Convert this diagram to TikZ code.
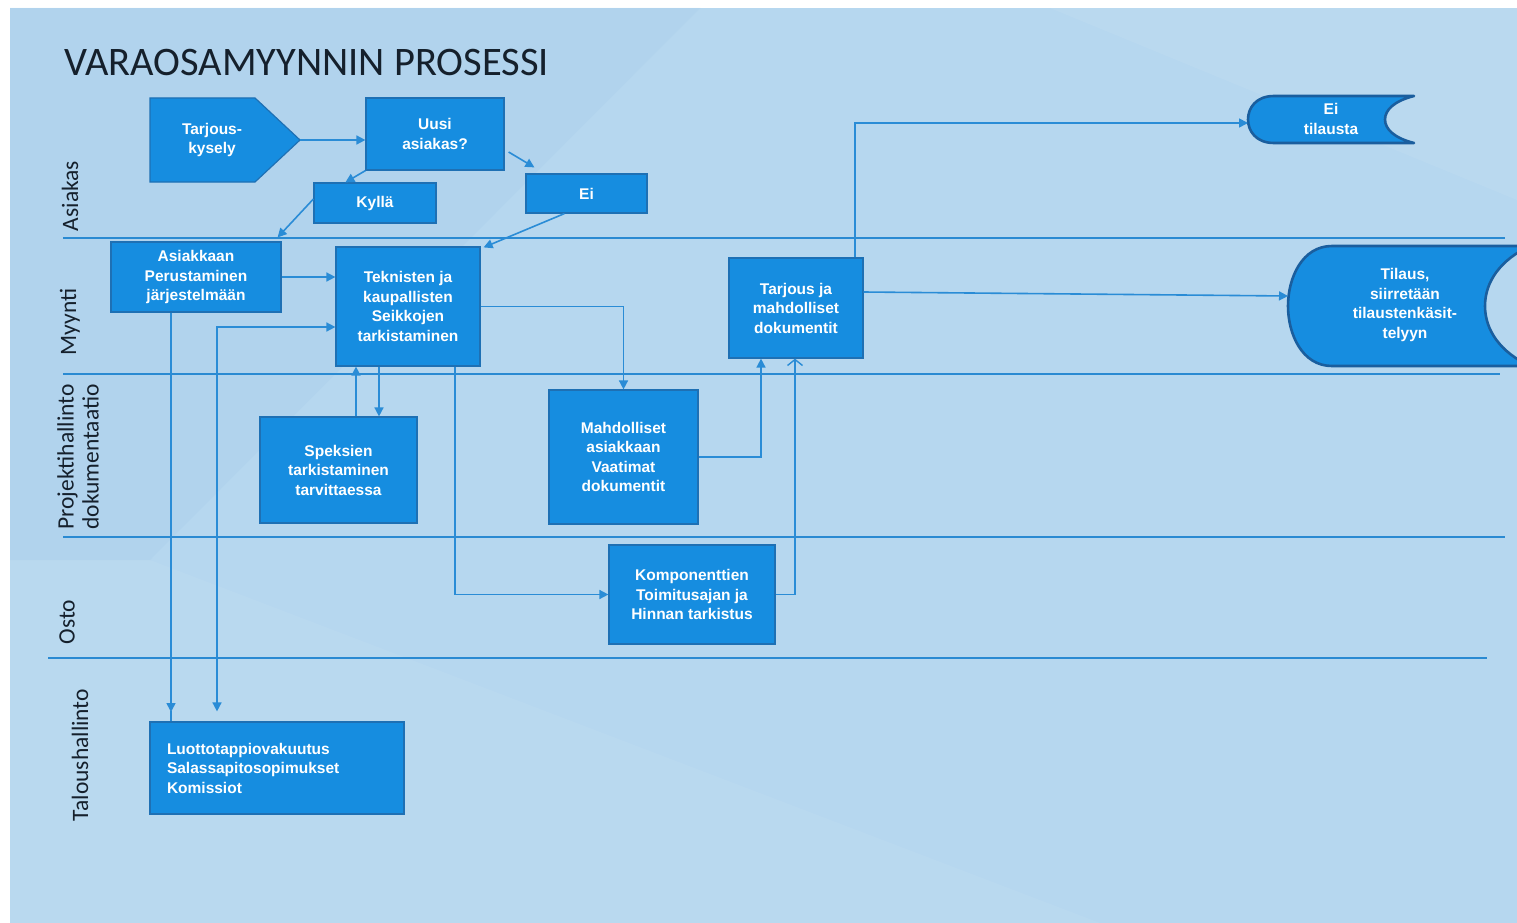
\documentclass[tikz,border=0pt]{standalone}
\usepackage{fontspec}
\setmainfont{Liberation Sans}
\newfontfamily\lanefont{Carlito}
\usetikzlibrary{arrows.meta,calc}

\definecolor{bgblue}{HTML}{B6D7EF}
\definecolor{bgdark}{HTML}{A6CCEA}
\definecolor{boxblue}{HTML}{168DE0}
\definecolor{boxedge}{HTML}{1E70B4}
\definecolor{endedge}{HTML}{1A5E9E}
\definecolor{flow}{HTML}{2A8CD6}
\definecolor{lane}{HTML}{2A8AD2}
\definecolor{ink}{HTML}{15202C}

\tikzset{
  procbox/.style={draw=boxedge, line width=1.2pt, fill=boxblue, text=white,
    font=\fontsize{15.5}{19.5}\selectfont\bfseries, align=center, inner sep=0pt},
  boxtext/.style={text=white, font=\fontsize{15.5}{19.5}\selectfont\bfseries,
    align=center, inner sep=0pt},
  endshape/.style={draw=endedge, line width=2.6pt, line join=round, fill=boxblue},
  flowline/.style={draw=flow, line width=1.6pt, -{Triangle[length=9pt,width=9pt]}},
  plainflow/.style={draw=flow, line width=1.6pt},
  lanerule/.style={draw=lane, line width=2pt},
  lanelabel/.style={font=\lanefont\fontsize{23.5}{25}\selectfont, text=ink,
    rotate=90, align=center, inner sep=0pt},
}

\begin{document}
\begin{tikzpicture}[x=1pt,y=-1pt]
\useasboundingbox (0,0) rectangle (1517,923);
\begin{scope}
\clip (0,0) rectangle (1517,923);

% page background with soft diagonal light bands
\fill[white] (0,0) rectangle (1517,923);
\fill[bgblue] (10,8) rectangle (1517,923);
\fill[bgdark,opacity=0.3] (10,8) -- (700,8) -- (150,560) -- (10,560) -- cycle;
\fill[white,opacity=0.06] (1050,8) -- (1517,8) -- (1517,200) -- cycle;
\fill[white,opacity=0.05] (10,560) -- (150,560) -- (1100,923) -- (10,923) -- cycle;

% swimlane separators
\draw[lanerule] (63,238) -- (1505,238);
\draw[lanerule] (63,374) -- (1500,374);
\draw[lanerule] (63,537) -- (1505,537);
\draw[lanerule] (48,658) -- (1487,658);

% title and lane names
\node[anchor=west, font=\lanefont\fontsize{40.5}{43}\selectfont, text=ink, inner sep=0pt]
  (title) at (64,62) {VARAOSAMYYNNIN PROSESSI};
\node[lanelabel] (lAsiakas) at (70,196) {Asiakas};
\node[lanelabel] (lMyynti) at (70,322) {Myynti};
\node[lanelabel] (lProj) at (78,457) {Projektihallinto\\dokumentaatio};
\node[lanelabel] (lOsto) at (67,622) {Osto};
\node[lanelabel] (lTalous) at (80,755) {Taloushallinto};

% start: request for quotation
\path[procbox] (150,98) -- (255,98) -- (300,140) -- (255,182) -- (150,182) -- cycle;
\node[boxtext] (kysely) at (212,140) {Tarjous-\\kysely};
\coordinate (kyselytip) at (300,140);

% process boxes
\node[procbox, minimum width=138pt, minimum height=72pt] (uusi) at (435,134) {Uusi\\asiakas?};
\node[procbox, minimum width=122pt, minimum height=40pt] (kylla) at (375,203) {Kyllä};
\node[procbox, minimum width=121pt, minimum height=39pt] (ei) at (586.5,193.5) {Ei};
\node[procbox, minimum width=170pt, minimum height=70pt] (asiak) at (196,277)
  {Asiakkaan\\Perustaminen\\järjestelmään};
\node[procbox, minimum width=144pt, minimum height=119pt] (tekn) at (408,306.5)
  {Teknisten ja\\kaupallisten\\Seikkojen\\tarkistaminen};
\node[procbox, minimum width=134pt, minimum height=100pt] (tarj) at (796,308)
  {Tarjous ja\\mahdolliset\\dokumentit};
\node[procbox, minimum width=157pt, minimum height=106pt] (speks) at (338.5,470)
  {Speksien\\tarkistaminen\\tarvittaessa};
\node[procbox, minimum width=149pt, minimum height=134pt] (mahd) at (623.5,457)
  {Mahdolliset\\asiakkaan\\Vaatimat\\dokumentit};
\node[procbox, minimum width=166pt, minimum height=99pt] (komp) at (692,594.5)
  {Komponenttien\\Toimitusajan ja\\Hinnan tarkistus};
\node[procbox, minimum height=92pt, text width=220pt, inner xsep=17pt, align=left] (luotto)
  at (277,768) {Luottotappiovakuutus\\Salassapitosopimukset\\Komissiot};

% terminal shapes
\path[endshape] (1414,96) -- (1274,96) .. controls (1256,96) and (1248,108) .. (1248,119.5)
  .. controls (1248,131) and (1256,143) .. (1274,143) -- (1414,143)
  .. controls (1394,138) and (1385,129) .. (1385,119.5)
  .. controls (1385,110) and (1394,101) .. (1414,96) -- cycle;
\node[boxtext] (eitil) at (1331,119) {Ei\\tilausta};
\coordinate (eitilin) at (1248,123);

\path[endshape] (1530,246) -- (1332,246) .. controls (1302,246) and (1288,278) .. (1288,306)
  .. controls (1288,334) and (1302,366) .. (1332,366) -- (1530,366)
  .. controls (1500,352) and (1485,330) .. (1485,306)
  .. controls (1485,282) and (1500,260) .. (1530,246) -- cycle;
\node[boxtext] (tilaus) at (1405,305) {Tilaus,\\siirretään\\tilaustenkäsit-\\telyyn};
\coordinate (tilausin) at (1288,296);

% connectors
\draw[flowline] (kyselytip) -- (uusi.west |- kyselytip);
\draw[flowline] (uusi.south west) -- ($(kylla.north west)+(32,0)$);
\draw[flowline] ($(uusi.east)+(4,18)$) -- ($(ei.north west)+(9,-6)$);
\draw[flowline] ($(kylla.west)+(0,-4)$) -- ($(asiak.north east)+(-4,-4)$);
\draw[flowline] ($(ei.south west)+(39,0)$) -- ($(tekn.north east)+(3,1)$);
\draw[flowline] (asiak.east) -- (tekn.west |- asiak.east);
\draw[flowline] ([xshift=-29pt]tekn.south) -- ([xshift=-29pt]tekn.south |- speks.north);
\draw[flowline] ([xshift=17.5pt]speks.north) -- ([xshift=17.5pt]speks.north |- tekn.south);
\draw[flowline] (tekn.east) -| (mahd.north);
\draw[flowline] ([xshift=47pt]tekn.south) |- (komp.west);
\draw[flowline] (mahd.east) -| ([xshift=-35pt]tarj.south);
\draw[plainflow, -{Straight Barb[length=6pt,width=15pt,line width=1.4pt]}]
  (komp.east) -| ([xshift=-1pt]tarj.south);
\draw[flowline] ([xshift=59pt]tarj.north) |- (eitilin);
\draw[flowline] ($(tarj.east)+(0,-16)$) -- (tilausin);
\draw[plainflow] ([xshift=-106pt]luotto.north) -- ([xshift=-106pt,yshift=10pt]luotto.north);
\draw[flowline] ([xshift=-25pt]asiak.south) -- ([xshift=-25pt]asiak.south |- 0,712);
\draw[draw=flow, line width=1.6pt, {Triangle[length=9pt,width=9pt]}-{Triangle[length=9pt,width=9pt]}]
  ($(luotto.north)+(-60,-10)$) |- ($(tekn.west)+(0,20.5)$);
\end{scope}
\end{tikzpicture}
\end{document}
